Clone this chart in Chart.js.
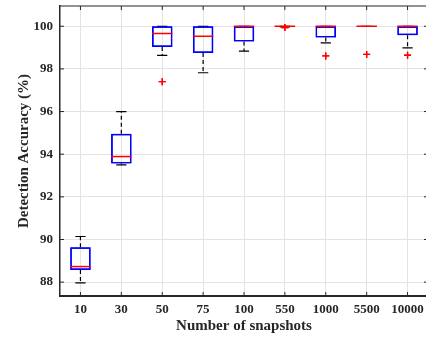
<!DOCTYPE html>
<html>
<head>
<meta charset="utf-8">
<script src="https://cdn.jsdelivr.net/npm/chart.js@4.4.1/dist/chart.umd.min.js"></script>
<style>
  html, body { margin: 0; padding: 0; background: #fff; overflow: hidden; }
  #wrap { width: 428px; height: 337px; position: relative; }
</style>
</head>
<body>
<div id="wrap"><canvas id="c"></canvas></div>
<script>
// -- DATA -- //
const snapshots = ['10', '30', '50', '75', '100', '550', '1000', '5500', '10000']
const whiskerLow = [87.97, 93.50, 98.63, 97.82, 98.83, 99.97, 99.22, 99.99, 98.99]
const q1 = [88.57, 93.56, 99.03, 98.75, 99.28, 99.98, 99.47, 99.99, 99.58]
const median = [88.73, 93.89, 99.66, 99.53, 100.0, 100.0, 100.0, 100.0, 100.0]
const q3 = [89.64, 94.96, 100.0, 100.0, 100.0, 100.0, 100.0, 100.0, 100.0]
const whiskerHigh = [90.14, 96.00, 100.0, 100.0, 100.0, 100.0, 100.0, 100.0, 100.0]
const outliers = [null, null, 97.40, null, null, 99.94, 98.61, 98.68, 98.64]
const yTicks = [88, 90, 92, 94, 96, 98, 100]

const axisColor = '#262626'
const gridColor = '#e3e3e3'
const font = { family: '"Liberation Serif", "Times New Roman", serif', weight: 'bold' }

// whiskers, caps, medians, inward ticks and the top/right frame
const boxExtras = {
  id: 'boxExtras',
  afterDatasetsDraw(chart) {
    const { ctx, chartArea: a, scales: { x, y } } = chart
    const step = x.getPixelForValue(1) - x.getPixelForValue(0)
    const half = step * 0.25
    const cap = step * 0.125
    ctx.save()
    snapshots.forEach((s, i) => {
      const px = x.getPixelForValue(i)
      // dashed whiskers
      ctx.strokeStyle = '#000'
      ctx.lineWidth = 1.2
      ctx.setLineDash([4, 3])
      ctx.beginPath()
      ctx.moveTo(px, y.getPixelForValue(q3[i])); ctx.lineTo(px, y.getPixelForValue(whiskerHigh[i]))
      ctx.moveTo(px, y.getPixelForValue(q1[i])); ctx.lineTo(px, y.getPixelForValue(whiskerLow[i]))
      ctx.stroke()
      ctx.setLineDash([])
      // caps
      ctx.beginPath()
      ctx.moveTo(px - cap, y.getPixelForValue(whiskerHigh[i])); ctx.lineTo(px + cap, y.getPixelForValue(whiskerHigh[i]))
      ctx.moveTo(px - cap, y.getPixelForValue(whiskerLow[i])); ctx.lineTo(px + cap, y.getPixelForValue(whiskerLow[i]))
      ctx.stroke()
    })
    // redraw boxes on top of whiskers/caps
    chart.getDatasetMeta(0).data.forEach(el => el.draw(ctx))
    snapshots.forEach((s, i) => {
      const px = x.getPixelForValue(i)
      ctx.strokeStyle = '#ff0000'
      ctx.lineWidth = 1.5
      ctx.beginPath()
      ctx.moveTo(px - half, y.getPixelForValue(median[i])); ctx.lineTo(px + half, y.getPixelForValue(median[i]))
      ctx.stroke()
    })
    chart.getDatasetMeta(1).data.forEach(el => el.draw(ctx))

    // inward tick marks
    ctx.strokeStyle = axisColor
    ctx.lineWidth = 1
    ctx.beginPath()
    yTicks.forEach(v => {
      const py = y.getPixelForValue(v)
      ctx.moveTo(a.left, py); ctx.lineTo(a.left + 4, py)
      ctx.moveTo(a.right, py); ctx.lineTo(a.right - 4, py)
    })
    snapshots.forEach((s, i) => {
      const px = x.getPixelForValue(i)
      ctx.moveTo(px, a.bottom); ctx.lineTo(px, a.bottom - 4)
      ctx.moveTo(px, a.top); ctx.lineTo(px, a.top + 4)
    })
    ctx.stroke()
    // frame top + right
    ctx.lineWidth = 1.2
    ctx.beginPath()
    ctx.moveTo(a.left, a.top); ctx.lineTo(a.right, a.top); ctx.lineTo(a.right, a.bottom)
    ctx.stroke()
    ctx.restore()
  }
}

new Chart(document.getElementById('c'), {
  type: 'bar',
  data: {
    labels: snapshots,
    datasets: [
      {
        label: 'box',
        data: snapshots.map((s, i) => [q1[i], q3[i]]),
        backgroundColor: 'rgba(0,0,0,0)',
        borderColor: '#0000ff',
        borderWidth: 1.5,
        borderSkipped: false,
        barPercentage: 0.5,
        categoryPercentage: 1.0
      },
      {
        type: 'line',
        label: 'outliers',
        data: outliers,
        showLine: false,
        pointStyle: 'cross',
        pointRadius: 3.5,
        pointBorderColor: '#ff0000',
        pointBorderWidth: 1.3
      }
    ]
  },
  options: {
    responsive: true,
    maintainAspectRatio: false,
    animation: false,
    layout: { autoPadding: false, padding: { top: 6, right: 0, left: 0, bottom: 0 } },
    plugins: { legend: { display: false }, tooltip: { enabled: false } },
    scales: {
      x: {
        offset: true,
        grid: { color: gridColor, drawTicks: false, offset: false },
        border: { display: true, color: axisColor, width: 2 },
        ticks: { color: axisColor, font: { ...font, size: 13 }, padding: 6, maxRotation: 0 },
        title: { display: true, text: 'Number of snapshots', color: axisColor, font: { ...font, size: 15 }, padding: { top: 0, bottom: 2 } },
        afterFit(scale) { scale.height = 41; scale.paddingLeft = 0; scale.paddingRight = 0 }
      },
      y: {
        min: 87.35,
        max: 100.95,
        grid: { color: gridColor, drawTicks: false },
        border: { display: true, color: axisColor, width: 1.5 },
        afterBuildTicks(scale) { scale.ticks = yTicks.map(v => ({ value: v })) },
        ticks: { color: axisColor, font: { ...font, size: 13 }, padding: 7 },
        title: { display: true, text: 'Detection Accuracy (%)', color: axisColor, font: { ...font, size: 15 }, padding: { top: 15, bottom: 0 } },
        afterFit(scale) { scale.width = 60; scale.paddingTop = 0; scale.paddingBottom = 0 }
      }
    }
  },
  plugins: [boxExtras]
})
</script>
</body>
</html>
